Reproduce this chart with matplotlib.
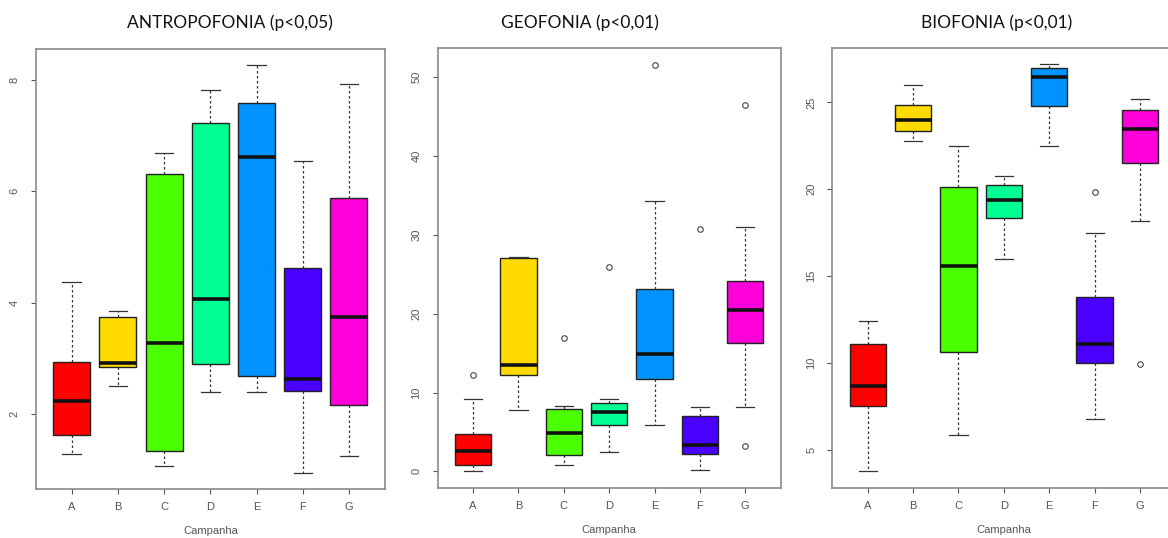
import numpy as np
import matplotlib
matplotlib.use('Agg')
import matplotlib.pyplot as plt

plt.rcParams['font.family'] = ['Liberation Sans', 'DejaVu Sans']

# campanhas
campanhas = ['A', 'B', 'C', 'D', 'E', 'F', 'G']
cores = ['#FF0000', '#FFDB00', '#49FF00', '#00FF92', '#0092FF', '#4900FF', '#FF00DB']

# ANTROPOFONIA: whisker low, q1, median, q3, whisker high
antro_lo  = [1.29, 2.51, 1.07, 2.39, 2.40, 0.95, 1.25]
antro_q1  = [1.63, 2.85, 1.34, 2.90, 2.69, 2.42, 2.17]
antro_med = [2.23, 2.91, 3.28, 4.07, 6.62, 2.64, 3.75]
antro_q3  = [2.93, 3.74, 6.31, 7.22, 7.59, 4.62, 5.88]
antro_hi  = [4.37, 3.86, 6.69, 7.82, 8.26, 6.55, 7.93]
antro_out = [[], [], [], [], [], [], []]

# GEOFONIA
geo_lo  = [0.0, 7.81, 0.76, 2.41, 5.83, 0.17, 8.11]
geo_q1  = [0.80, 12.25, 2.07, 5.95, 11.66, 2.20, 16.26]
geo_med = [2.53, 13.51, 4.86, 7.52, 14.86, 3.34, 20.52]
geo_q3  = [4.81, 27.03, 7.94, 8.70, 23.14, 7.05, 24.20]
geo_hi  = [9.16, 27.24, 8.36, 9.16, 34.25, 8.11, 30.95]
geo_out = [[12.2], [], [16.93], [25.93], [51.6], [30.74], [46.45, 3.21]]

# BIOFONIA
bio_lo  = [3.77, 22.77, 5.88, 15.98, 22.47, 6.77, 18.15]
bio_q1  = [7.53, 23.33, 10.66, 18.34, 24.79, 10.03, 21.51]
bio_med = [8.70, 23.98, 15.56, 19.40, 26.46, 11.10, 23.45]
bio_q3  = [11.10, 24.87, 20.12, 20.26, 26.98, 13.81, 24.56]
bio_hi  = [12.45, 26.02, 22.47, 20.78, 27.21, 17.48, 25.19]
bio_out = [[], [], [], [], [], [19.84], [9.95]]

titulos = ['ANTROPOFONIA (p<0,05)', 'GEOFONIA (p<0,01)', 'BIOFONIA (p<0,01)']
yticks = [[2, 4, 6, 8], [0, 10, 20, 30, 40, 50], [5, 10, 15, 20, 25]]

W, H = 1168., 538.
fig = plt.figure(figsize=(W/100, H/100), dpi=100)

# painel: (esquerda, direita, topo, base) em pixels
paineis = [(35.7, 385.0, 49.0, 489.0),
           (437.7, 780.7, 48.3, 487.7),
           (832.3, 1175.4, 47.7, 487.7)]
titulo_x = [229.5, 579.7, 997.0]

dados = [
    (antro_lo, antro_q1, antro_med, antro_q3, antro_hi, antro_out),
    (geo_lo, geo_q1, geo_med, geo_q3, geo_hi, geo_out),
    (bio_lo, bio_q1, bio_med, bio_q3, bio_hi, bio_out),
]

cinza = '#8a8a8a'
for k in range(3):
    l, r, t, b = paineis[k]
    ax = fig.add_axes([l/W, 1 - b/H, (r - l)/W, (b - t)/H])
    lo, q1, med, q3, hi, out = dados[k]
    stats = []
    for i in range(7):
        stats.append(dict(whislo=lo[i], q1=q1[i], med=med[i], q3=q3[i],
                          whishi=hi[i], fliers=out[i]))
    bp = ax.bxp(stats, positions=range(1, 8), widths=0.8, patch_artist=True,
                showfliers=True, capwidths=0.4,
                boxprops=dict(edgecolor='#222222', linewidth=1.0),
                medianprops=dict(color='#111111', linewidth=2.6),
                whiskerprops=dict(color='#333333', linewidth=0.9, linestyle=(0, (2, 2))),
                capprops=dict(color='#333333', linewidth=0.9),
                flierprops=dict(marker='o', markersize=4, markerfacecolor='none',
                                markeredgecolor='#444444', markeredgewidth=0.8))
    for patch, c in zip(bp['boxes'], cores):
        patch.set_facecolor(c)

    # limites no estilo R (4% de folga)
    vmin = min(min(lo), min([min(o) for o in out if o] + [1e9]))
    vmax = max(max(hi), max([max(o) for o in out if o] + [-1e9]))
    pad = 0.04 * (vmax - vmin)
    ax.set_ylim(vmin - pad, vmax + pad)
    ax.set_xlim(0.5 - 0.28, 7.5 + 0.28)

    ax.set_xticks(range(1, 8))
    ax.set_xticklabels(campanhas)
    ax.set_yticks(yticks[k])
    ax.set_yticklabels([str(v) for v in yticks[k]], rotation=90, va='center')
    ax.tick_params(direction='out', length=3.6, width=0.8, color='#555555',
                   labelcolor='#555555', labelsize=8)
    ax.tick_params(axis='x', pad=6)
    ax.tick_params(axis='y', pad=8)
    for s in ax.spines.values():
        s.set_color(cinza)
        s.set_linewidth(1.2)
    ax.set_xlabel('Campanha', fontsize=8, color='#555555', labelpad=10)

    fig.text(titulo_x[k]/W, 1 - 28.3/H, titulos[k], ha='center', va='baseline',
             fontsize=12.5, family='Lato', color='#111111')

plt.savefig('out.png', dpi=100)
